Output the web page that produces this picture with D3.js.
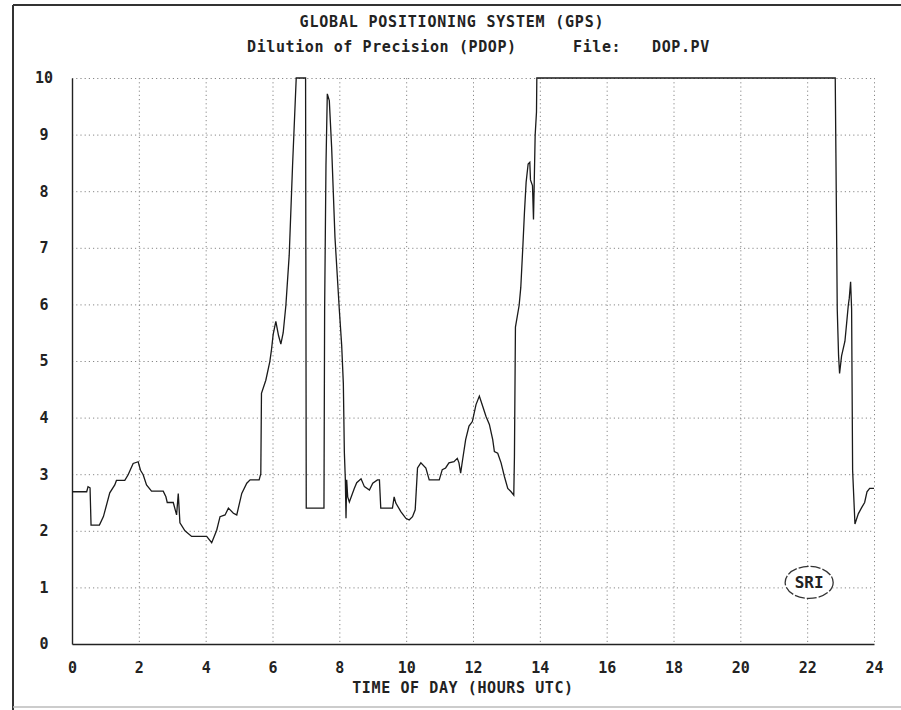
<!DOCTYPE html>
<html>
<head>
<meta charset="utf-8">
<script src="https://cdn.jsdelivr.net/npm/d3@7"></script>
<style>
  html, body { margin: 0; padding: 0; background: #fff; }
  svg { display: block; }
  text { font-family: "DejaVu Sans Mono", "Liberation Mono", monospace; font-weight: bold; fill: #222; }
</style>
</head>
<body>
<svg id="chart" width="901" height="710"></svg>
<script>
// ---- data ----
const titleLine1 = "GLOBAL POSITIONING SYSTEM (GPS)";
const titleLine2a = "Dilution of Precision (PDOP)";
const titleLine2b = "File:";
const titleLine2c = "DOP.PV";
const xAxisTitle = "TIME OF DAY (HOURS UTC)";
const xTickValues = [0, 2, 4, 6, 8, 10, 12, 14, 16, 18, 20, 22, 24];
const yTickValues = [0, 1, 2, 3, 4, 5, 6, 7, 8, 9, 10];

const hours = [
  0, 0.44, 0.48, 0.54, 0.57, 0.82, 0.94, 1.13, 1.28, 1.33, 1.58, 1.68, 1.83, 1.98, 2.05, 2.13, 2.23, 2.38,
  2.73, 2.81, 2.85, 3.03, 3.13, 3.18, 3.23, 3.38, 3.58, 4.03, 4.18, 4.33, 4.43, 4.58, 4.68, 4.83, 4.93,
  5.08, 5.23, 5.33, 5.6, 5.65, 5.67, 5.8, 5.92, 5.97, 6.02, 6.1, 6.18, 6.25, 6.32, 6.4, 6.5, 6.6, 6.71,
  6.99, 7.01, 7.54, 7.56, 7.6, 7.64, 7.7, 7.77, 7.87, 8.0, 8.07, 8.12, 8.15, 8.18, 8.2, 8.22, 8.25, 8.3,
  8.45, 8.52, 8.65, 8.75, 8.9, 9.0, 9.14, 9.2, 9.24, 9.59, 9.64, 9.69, 9.84, 9.99, 10.09, 10.19, 10.27,
  10.34, 10.44, 10.59, 10.69, 10.99, 11.08, 11.18, 11.28, 11.43, 11.53, 11.58, 11.63, 11.68, 11.78,
  11.88, 11.98, 12.09, 12.19, 12.29, 12.39, 12.49, 12.59, 12.64, 12.74, 12.84, 12.94, 13.04, 13.14,
  13.22, 13.24, 13.27, 13.38, 13.43, 13.49, 13.54, 13.59, 13.65, 13.7, 13.72, 13.78, 13.81, 13.83,
  13.86, 13.9, 13.91, 22.84, 22.86, 22.9, 22.94, 22.97, 23.03, 23.13, 23.18, 23.23, 23.26, 23.3, 23.33,
  23.36, 23.43, 23.53, 23.63, 23.72, 23.79, 23.87, 24
];
const pdop = [
  2.69, 2.69, 2.78, 2.76, 2.1, 2.1, 2.25, 2.67, 2.81, 2.89, 2.89, 2.99, 3.19, 3.22, 3.07, 2.99, 2.81, 2.70,
  2.70, 2.6, 2.5, 2.5, 2.28, 2.66, 2.14, 2.0, 1.9, 1.9, 1.79, 2.01, 2.25, 2.28, 2.4, 2.31, 2.28,
  2.66, 2.84, 2.9, 2.9, 3.01, 4.43, 4.66, 4.99, 5.2, 5.47, 5.7, 5.45, 5.3, 5.5, 5.98, 6.87, 8.45, 10,
  10, 2.4, 2.4, 5.92, 8.45, 9.72, 9.6, 8.77, 7.18, 5.9, 5.28, 4.6, 3.39, 2.9, 2.22, 2.9, 2.6, 2.51,
  2.75, 2.85, 2.92, 2.78, 2.72, 2.84, 2.9, 2.9, 2.4, 2.4, 2.6, 2.49, 2.34, 2.22, 2.19, 2.25, 2.37,
  3.11, 3.2, 3.11, 2.9, 2.9, 3.08, 3.11, 3.2, 3.22, 3.28, 3.2, 3.02, 3.22, 3.61,
  3.85, 3.93, 4.23, 4.38, 4.2, 4.02, 3.88, 3.61, 3.4, 3.37, 3.2, 2.96, 2.75, 2.69,
  2.63, 3.31, 5.6, 5.98, 6.3, 7.0, 7.63, 8.16, 8.48, 8.51, 8.2, 8.1, 7.5, 8.07,
  8.99, 9.4, 10, 10, 8.67, 5.92, 5.09, 4.78, 5.09, 5.35, 5.66, 5.98, 6.11, 6.4, 5.92,
  3.07, 2.12, 2.3, 2.41, 2.5, 2.69, 2.75, 2.75
];
const logoText = "SRI";

// ---- layout ----
const svg = d3.select("#chart");
const plotLeft = 72, plotRight = 874, plotTop = 78, plotBottom = 644;

const x = d3.scaleLinear().domain([0, 24]).range([plotLeft, plotRight]);
const y = d3.scaleLinear().domain([0, 10]).range([plotBottom, plotTop]);

// outer frame (scanned page border)
svg.append("line").attr("x1", 13).attr("x2", 901).attr("y1", 5).attr("y2", 5)
  .attr("stroke", "#333").attr("stroke-width", 2);
svg.append("line").attr("x1", 13).attr("x2", 13).attr("y1", 5).attr("y2", 710)
  .attr("stroke", "#333").attr("stroke-width", 2);
svg.append("line").attr("x1", 13).attr("x2", 901).attr("y1", 707).attr("y2", 707)
  .attr("stroke", "#bbb").attr("stroke-width", 1.5);

// grid
const grid = svg.append("g").attr("stroke", "#888").attr("stroke-width", 1)
  .attr("stroke-dasharray", "1.2,3");
grid.selectAll(".hg").data(yTickValues.filter(d => d > 0)).join("line")
  .attr("x1", plotLeft).attr("x2", plotRight)
  .attr("y1", d => y(d) + 0.5).attr("y2", d => y(d) + 0.5);
grid.selectAll(".vg").data(xTickValues.filter(d => d > 0)).join("line")
  .attr("y1", plotTop).attr("y2", plotBottom)
  .attr("x1", d => x(d) + 0.5).attr("x2", d => x(d) + 0.5);

// axes
const xAxis = svg.append("g").attr("transform", `translate(0,${plotBottom})`)
  .call(d3.axisBottom(x).tickValues(xTickValues).tickSize(0).tickSizeOuter(0).tickPadding(18).tickFormat(d3.format("d")));
const yAxis = svg.append("g").attr("transform", `translate(${plotLeft},0)`)
  .call(d3.axisLeft(y).tickValues(yTickValues).tickSize(0).tickSizeOuter(0).tickFormat(d3.format("d")));

[xAxis, yAxis].forEach(g => {
  g.select(".domain").attr("stroke", "#222").attr("stroke-width", 1.4);
  g.selectAll("text").attr("font-family", "'DejaVu Sans Mono', monospace")
    .attr("font-weight", "bold").attr("font-size", 15).attr("fill", "#222");
});
yAxis.selectAll("text").attr("text-anchor", "middle").attr("x", -28);

// line
const line = d3.line().x((d, i) => x(hours[i])).y(d => y(d));
svg.append("path").datum(pdop)
  .attr("d", line)
  .attr("fill", "none").attr("stroke", "#1a1a1a").attr("stroke-width", 1.3)
  .attr("stroke-linejoin", "miter");

// titles
svg.append("text").attr("x", 452).attr("y", 27).attr("text-anchor", "middle")
  .attr("font-size", 15).attr("letter-spacing", 0.8).text(titleLine1);
svg.append("text").attr("x", 247).attr("y", 52)
  .attr("font-size", 15).attr("letter-spacing", 0.6).text(titleLine2a);
svg.append("text").attr("x", 573).attr("y", 52)
  .attr("font-size", 15).attr("letter-spacing", 0.6).text(titleLine2b);
svg.append("text").attr("x", 652).attr("y", 52)
  .attr("font-size", 15).attr("letter-spacing", 0.6).text(titleLine2c);
svg.append("text").attr("x", 463).attr("y", 693).attr("text-anchor", "middle")
  .attr("font-size", 15).attr("letter-spacing", 0.6).text(xAxisTitle);

// SRI logo
const logo = svg.append("g").attr("transform", `translate(${x(22) + 2},${y(1) - 5})`);
logo.append("ellipse").attr("rx", 24).attr("ry", 16)
  .attr("fill", "#fff").attr("stroke", "#333").attr("stroke-width", 1.3)
  .attr("stroke-dasharray", "10,2");
logo.append("text").attr("text-anchor", "middle").attr("y", 6)
  .attr("font-size", 16).attr("fill", "#111").text(logoText);
</script>
</body>
</html>
